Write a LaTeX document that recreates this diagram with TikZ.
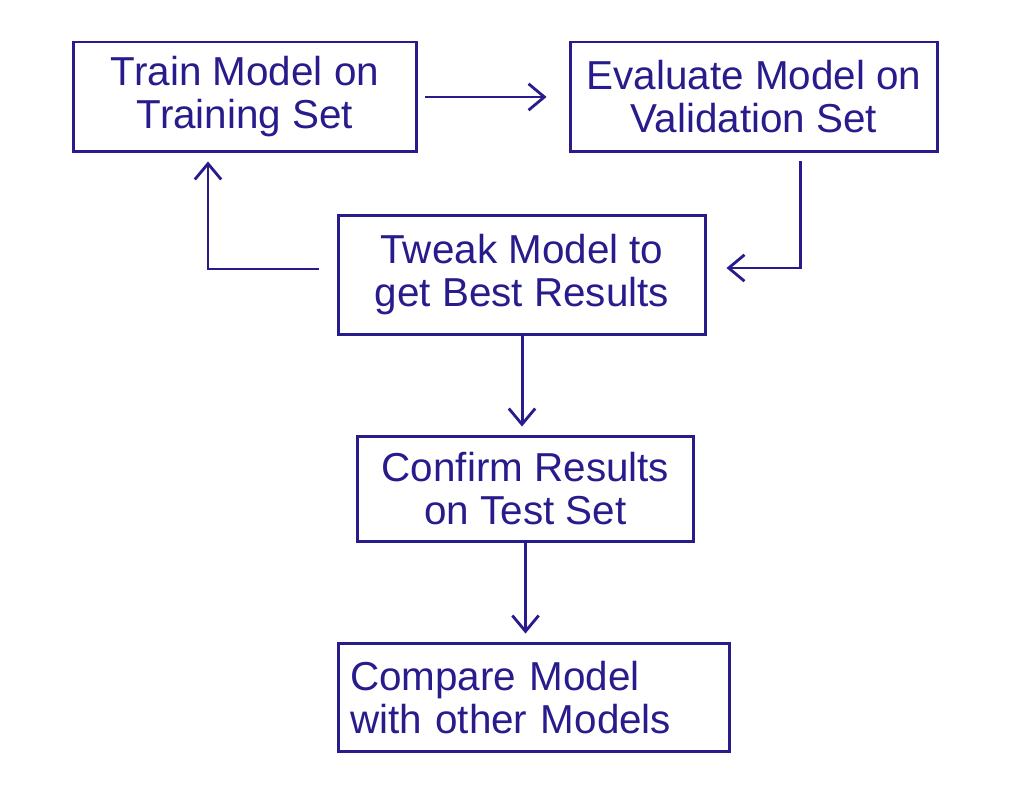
\documentclass[tikz,border=0pt]{standalone}
\usepackage{fontspec}
\setmainfont{Liberation Sans}
\usetikzlibrary{arrows.meta,calc}
\definecolor{ink}{RGB}{40,28,140}
\tikzset{
  box/.style={draw=ink, line width=1.7pt, inner sep=0pt, text=ink,
    font=\fontsize{23}{24.5}\selectfont, align=center},
  arr/.style={draw=ink, line width=1.7pt,
    -{Straight Barb[length=9pt,width=15pt,line width=1.6pt]}}
}
\begin{document}
\begin{tikzpicture}[x=0.02cm,y=-0.02cm]
\useasboundingbox[fill=white] (0,0) rectangle (1024,810);
\node[box, minimum width=6.88cm, minimum height=2.2cm] (train) at (245,97) {Train Model on\\Training Set};
\node[box, minimum width=7.36cm, minimum height=2.2cm] (eval) at (754,97) {Evaluate Model on\\Validation Set};
\node[box, minimum width=7.36cm, minimum height=2.4cm] (tweak) at (522,275) {Tweak Model to\\get Best Results};
\node[box, minimum width=6.74cm, minimum height=2.12cm] (confirm) at (525.5,489) {Confirm Results\\on Test Set};
\node[box, minimum width=7.84cm, minimum height=2.18cm, text width=7.36cm, align=left] (compare) at (534,697.5) {Compare Model\\with other Models};

\draw[arr, shorten <=7*0.02cm, shorten >=22*0.02cm] (train.east) -- (eval.west);
\draw[arr] ($(tweak.west)+(-18,-6)$) -| ($(train.south)+(-37,8)$);
\draw[arr] ($(eval.south)+(46,8)$) |- ($(tweak.east)+(19,-7)$);
\draw[arr, shorten >=8*0.02cm] (tweak.south) -- (tweak.south |- confirm.north);
\draw[arr, shorten >=8*0.02cm] (confirm.south) -- (confirm.south |- compare.north);
\end{tikzpicture}
\end{document}
